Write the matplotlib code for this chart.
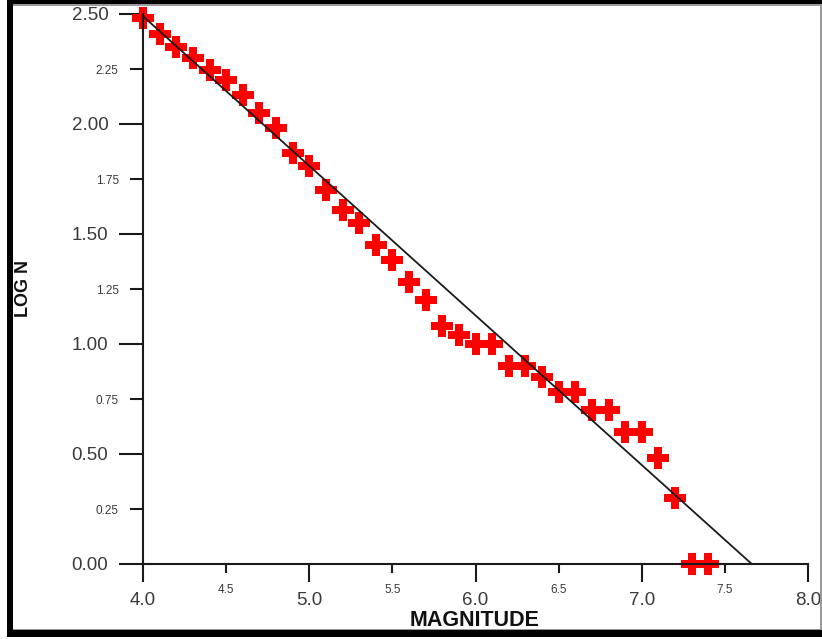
from matplotlib import pyplot as plt
from matplotlib.patches import Rectangle
from matplotlib.ticker import MultipleLocator, FormatStrFormatter

import numpy as np

# Magnitude bins and log of cumulative number
magnitude = [4.0, 4.1, 4.2, 4.3, 4.4, 4.5, 4.6, 4.7, 4.8, 4.9,
             5.0, 5.1, 5.2, 5.3, 5.4, 5.5, 5.6, 5.7, 5.8, 5.9,
             6.0, 6.1, 6.2, 6.3, 6.4, 6.5, 6.6, 6.7, 6.8, 6.9,
             7.0, 7.1, 7.2, 7.3, 7.4]
log_n = [2.48, 2.41, 2.35, 2.30, 2.245, 2.20, 2.13, 2.05, 1.98, 1.87,
         1.81, 1.70, 1.61, 1.55, 1.45, 1.38, 1.28, 1.20, 1.08, 1.04,
         1.00, 1.00, 0.90, 0.90, 0.85, 0.78, 0.78, 0.70, 0.70, 0.60,
         0.60, 0.48, 0.30, 0.00, 0.00]

# Gutenberg-Richter fit: log N = a - b M
fit_a = 5.21
fit_b = 0.68

W, H = 822, 639

plt.rcParams['font.family'] = ['Liberation Sans', 'DejaVu Sans']

fig = plt.figure(figsize=(W / 100, H / 100), dpi=100)
fig.patch.set_facecolor('white')

ax = fig.add_axes([143 / W, 1 - 564 / H, (808 - 143) / W, (564 - 14) / H])

fit_x = np.array([magnitude[0], fit_a / fit_b])
fit_y = fit_a - fit_b * fit_x
ax.plot(fit_x, fit_y, color='#1a1a1a', lw=1.3, zorder=3, clip_on=False)

ax.plot(magnitude, log_n, linestyle='none', marker='P', markersize=16,
        color='#ff0000', markeredgewidth=0, zorder=2, clip_on=False)

ax.set_xlim(4.0, 8.0)
ax.set_ylim(0.0, 2.5)

for side in ['top', 'right']:
    ax.spines[side].set_visible(False)
for side in ['left', 'bottom']:
    ax.spines[side].set_linewidth(1.5)
    ax.spines[side].set_color('#1a1a1a')

ax.xaxis.set_major_locator(MultipleLocator(1.0))
ax.xaxis.set_minor_locator(MultipleLocator(0.5))
ax.xaxis.set_major_formatter(FormatStrFormatter('%.1f'))
ax.xaxis.set_minor_formatter(FormatStrFormatter('%.1f'))

ax.yaxis.set_major_locator(MultipleLocator(0.5))
ax.yaxis.set_minor_locator(MultipleLocator(0.25))
ax.yaxis.set_major_formatter(FormatStrFormatter('%.2f'))
ax.yaxis.set_minor_formatter(FormatStrFormatter('%.2f'))

ax.tick_params(axis='x', which='major', direction='out', length=13, width=1.5,
               labelsize=13.5, pad=7, colors='#1a1a1a', labelcolor='#3a3a3a')
ax.tick_params(axis='x', which='minor', direction='out', length=6.5, width=1.5,
               labelsize=8.5, pad=8, colors='#1a1a1a', labelcolor='#3a3a3a')
ax.tick_params(axis='y', which='major', direction='out', length=17, width=1.5,
               labelsize=13.5, pad=8, colors='#1a1a1a', labelcolor='#3a3a3a')
ax.tick_params(axis='y', which='minor', direction='out', length=9.5, width=1.5,
               labelsize=8.5, pad=8, colors='#1a1a1a', labelcolor='#3a3a3a')

fig.text(475 / W, 1 - 621 / H, 'MAGNITUDE', fontsize=15.5, fontweight='bold',
         ha='center', va='center', color='#111111')
fig.text(23 / W, 1 - 288 / H, 'LOG N', fontsize=13, fontweight='bold',
         rotation=90, ha='center', va='center', color='#111111')

# Frame around the figure, as in the scanned original
def px_rect(x0, y0, x1, y1, color):
    fig.add_artist(Rectangle((x0 / W, 1 - y1 / H), (x1 - x0) / W, (y1 - y0) / H,
                             transform=fig.transFigure, facecolor=color,
                             edgecolor='none', zorder=10))

px_rect(7, 0, 13, 637, 'black')
px_rect(7, 0, 822, 4.5, 'black')
px_rect(7, 630, 822, 637, 'black')
px_rect(13, 4.5, 822, 5.5, '#9a9a9a')
px_rect(13, 629, 822, 630, '#9a9a9a')
px_rect(820, 4.5, 821.5, 630, '#9a9a9a')

fig.savefig('out.png', dpi=100)
